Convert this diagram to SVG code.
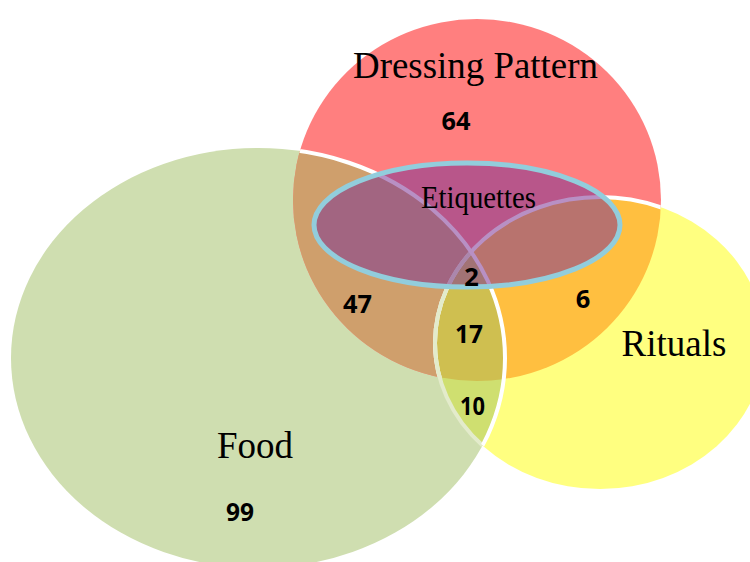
<svg xmlns="http://www.w3.org/2000/svg" xmlns:xlink="http://www.w3.org/1999/xlink" width="750" height="562" viewBox="0 0 750 562">
  <style>
    .lbl { font-family: "Liberation Serif", "Times New Roman", serif; fill: #000; text-anchor: middle; }
    .num { font-family: "Open Sans", "Liberation Sans", Arial, sans-serif; font-weight: bold; font-size: 25.5px; fill: #000; text-anchor: middle; }
  </style>
  <defs>
    <clipPath id="cFood"><ellipse cx="258" cy="358" rx="247" ry="210"/></clipPath>
    <clipPath id="cDress"><ellipse cx="477" cy="200" rx="184" ry="181"/></clipPath>
    <clipPath id="cRit"><ellipse cx="600" cy="343" rx="165" ry="146"/></clipPath>
    <clipPath id="cDressRit"><ellipse cx="477" cy="200" rx="184" ry="181"/><ellipse cx="600" cy="343" rx="165" ry="146"/></clipPath>
  </defs>
  <rect width="750" height="562" fill="#ffffff"/>

  <g id="food">
    <ellipse cx="258" cy="358" rx="247" ry="210" fill="#cfdeb0"/>
  </g>
  <g id="dressing-pattern">
    <ellipse cx="477" cy="200" rx="184" ry="181" fill="#ff7f7f"/>
  </g>
  <g id="rituals">
    <ellipse cx="600" cy="343" rx="165" ry="146" fill="#ffff80"/>
  </g>

  <g id="overlaps">
    <g clip-path="url(#cFood)"><ellipse cx="477" cy="200" rx="184" ry="181" fill="#cf9f6c"/></g>
    <g clip-path="url(#cRit)"><ellipse cx="477" cy="200" rx="184" ry="181" fill="#ffbf40"/></g>
    <g clip-path="url(#cFood)"><ellipse cx="600" cy="343" rx="165" ry="146" fill="#cfdf70"/></g>
    <g clip-path="url(#cFood)"><g clip-path="url(#cRit)"><ellipse cx="477" cy="200" rx="184" ry="181" fill="#cfbf50"/></g></g>
  </g>

  <g id="outlines" fill="none" stroke-width="4">
    <g clip-path="url(#cDress)"><ellipse cx="600" cy="343" rx="165" ry="146" stroke="#ffffff"/></g>
    <g clip-path="url(#cFood)"><ellipse cx="600" cy="343" rx="165" ry="146" stroke="#e3ebcb"/></g>
    <g clip-path="url(#cDressRit)"><ellipse cx="258" cy="358" rx="247" ry="210" stroke="#ffffff"/></g>
  </g>

  <g id="etiquettes">
    <ellipse cx="467" cy="225" rx="153" ry="62" fill="#7e3493" fill-opacity="0.55" stroke="#92cddc" stroke-width="5"/>
    <text class="lbl" x="478.5" y="207.5" font-size="31" textLength="115" lengthAdjust="spacingAndGlyphs">Etiquettes</text>
  </g>

  <g id="labels">
    <text class="lbl" x="475.5" y="78" font-size="37" textLength="245" lengthAdjust="spacingAndGlyphs">Dressing Pattern</text>
    <text class="lbl" x="674" y="356" font-size="37">Rituals</text>
    <text class="lbl" x="255" y="457.5" font-size="37">Food</text>
  </g>

  <g id="counts">
    <text class="num" x="456" y="129.5" textLength="29" lengthAdjust="spacingAndGlyphs">64</text>
    <text class="num" x="357.5" y="313" textLength="29" lengthAdjust="spacingAndGlyphs">47</text>
    <text class="num" x="471.5" y="285.5">2</text>
    <text class="num" x="583" y="307.5">6</text>
    <text class="num" x="469" y="343" textLength="28" lengthAdjust="spacingAndGlyphs">17</text>
    <text class="num" x="472.5" y="414.5" textLength="25" lengthAdjust="spacingAndGlyphs">10</text>
    <text class="num" x="240" y="521" textLength="28" lengthAdjust="spacingAndGlyphs">99</text>
  </g>
</svg>
